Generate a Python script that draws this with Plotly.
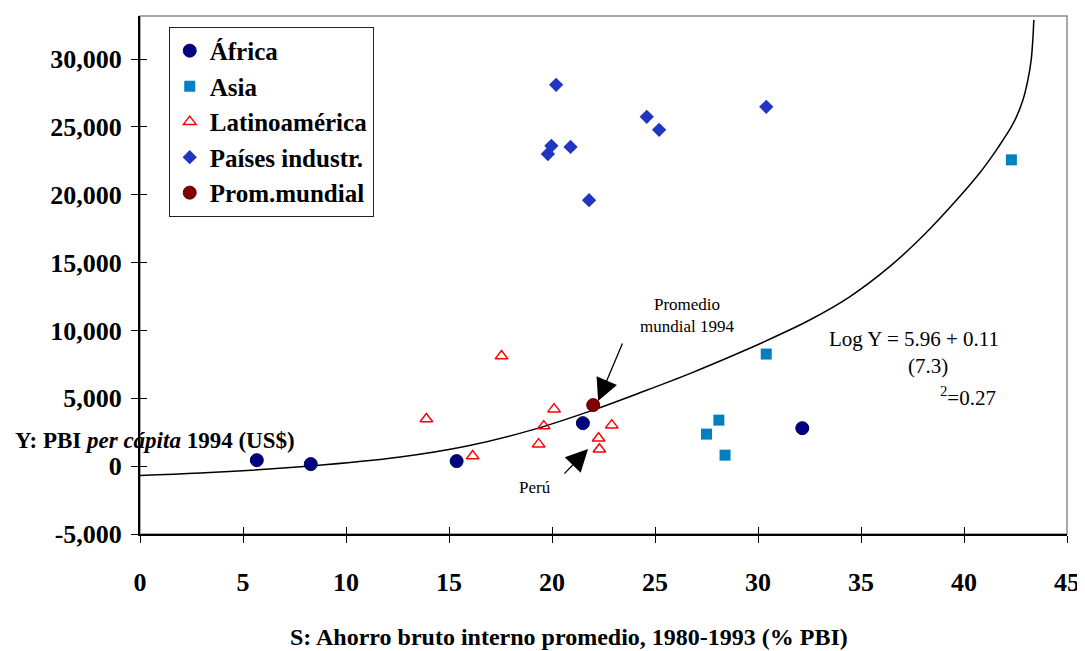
import plotly.graph_objects as go

# ---------------- data ----------------
africa_x = [5.67, 8.29, 15.37, 21.5, 32.15]
africa_y = [440, 150, 370, 3170, 2800]

asia_x = [42.3, 30.4, 28.1, 27.5, 28.4]
asia_y = [22570, 8260, 3390, 2360, 810]

latam_x = [13.9, 16.15, 17.55, 20.1, 19.6, 19.35, 22.26, 22.3, 22.9]
latam_y = [3470, 740, 8110, 4200, 2950, 1620, 2060, 1250, 3020]

ind_x = [20.2, 19.97, 19.8, 20.9, 21.8, 24.6, 25.2, 30.4]
ind_y = [28100, 23600, 23000, 23520, 19600, 25740, 24780, 26480]

world_x = [22.0]
world_y = [4500]

# trend curve
curve_x = [-0.95, 2.93, 8.27, 12.63, 15.88, 19.08, 21.99, 24.27, 26.69, 29.12,
           31.06, 32.51, 34.45, 36.39, 38.09, 39.79, 40.76, 41.57, 41.89,
           42.29, 42.54, 42.86, 43.10, 43.26, 43.34, 43.39]
curve_y = [-730, -510, 10, 670, 1480, 2690, 4130, 5410, 6820, 8370,
           9700, 10770, 12480, 14700, 17090, 19870, 21600, 23290, 24030,
           24990, 25720, 26980, 28450, 29920, 31400, 32870]

x_ticks = [0, 5, 10, 15, 20, 25, 30, 35, 40, 45]
x_ticktext = ["0", "5", "10", "15", "20", "25", "30", "35", "40", "45"]
y_ticks = [-5000, 0, 5000, 10000, 15000, 20000, 25000, 30000]
y_ticktext = ["-5,000", "0", "5,000", "10,000", "15,000", "20,000", "25,000", "30,000"]

X_RANGE = [0, 45]
Y_RANGE = [-5000, 33170]

SERIF = "Liberation Serif, Times New Roman, serif"

fig = go.Figure()

fig.add_trace(go.Scatter(x=curve_x, y=curve_y, mode="lines",
                         line=dict(color="black", width=1.5, shape="spline", smoothing=1.0),
                         showlegend=False, hoverinfo="skip"))

fig.add_trace(go.Scatter(x=africa_x, y=africa_y, mode="markers", name="África",
                         marker=dict(symbol="circle", size=13, color="#000080",
                                     line=dict(color="#000060", width=1))))
fig.add_trace(go.Scatter(x=asia_x, y=asia_y, mode="markers", name="Asia",
                         marker=dict(symbol="square", size=11, color="#0080C0",
                                     line=dict(width=0))))
fig.add_trace(go.Scatter(x=latam_x, y=latam_y, mode="markers", name="Latinoamérica",
                         marker=dict(symbol="triangle-up-open", size=11, color="#FF0000",
                                     line=dict(color="#FF0000", width=1.5))))
fig.add_trace(go.Scatter(x=ind_x, y=ind_y, mode="markers", name="Países industr.",
                         marker=dict(symbol="diamond", size=11, color="#2035C0",
                                     line=dict(width=0))))
fig.add_trace(go.Scatter(x=world_x, y=world_y, mode="markers", name="Prom.mundial",
                         marker=dict(symbol="circle", size=13, color="#800000",
                                     line=dict(color="#600000", width=1))))

# invisible trace for the inside-tick overlay axes
fig.add_trace(go.Scatter(x=[None], y=[None], xaxis="x2", yaxis="y2",
                         showlegend=False, hoverinfo="skip"))

tickfont = dict(family=SERIF, size=26, color="black", weight="bold")

# page body has an 8px margin, so the figure is sized/offset to compensate
fig.update_layout(
    width=1077, height=643, autosize=False,
    margin=dict(l=131.5, r=17.5, t=8, b=117, autoexpand=False),
    paper_bgcolor="white", plot_bgcolor="white",
    showlegend=True,
    legend=dict(x=0.031, y=0.979, xanchor="left", yanchor="top",
                bgcolor="white", bordercolor="#222222", borderwidth=1,
                font=dict(family=SERIF, size=25, color="black", weight="bold"),
                traceorder="normal"),
    xaxis=dict(range=X_RANGE, tickvals=x_ticks, ticktext=x_ticktext, automargin=False,
               showgrid=False, zeroline=False, showline=True, linecolor="black",
               linewidth=2, ticks="outside", ticklen=7, tickwidth=1, tickcolor="black",
               tickfont=tickfont, ticklabelstandoff=17),
    yaxis=dict(range=Y_RANGE, tickvals=y_ticks, ticktext=y_ticktext, automargin=False,
               showgrid=False, zeroline=False, showline=True, linecolor="black",
               linewidth=2, ticks="outside", ticklen=7, tickwidth=1, tickcolor="black",
               tickfont=tickfont, ticklabelstandoff=4),
    xaxis2=dict(range=X_RANGE, overlaying="x", anchor="y2", side="bottom", automargin=False,
                tickvals=x_ticks, showticklabels=False, ticks="inside", ticklen=7,
                tickwidth=1, tickcolor="black", showgrid=False, zeroline=False,
                showline=False),
    yaxis2=dict(range=Y_RANGE, overlaying="y", anchor="x2", side="left", automargin=False,
                tickvals=y_ticks, showticklabels=False, ticks="inside", ticklen=7,
                tickwidth=1, tickcolor="black", showgrid=False, zeroline=False,
                showline=False),
)

# gray frame (top/right)
fig.add_shape(type="rect", xref="paper", yref="paper", x0=0, y0=0, x1=1, y1=1,
              line=dict(color="#8a8a8a", width=1.5), layer="below")

ann_font = dict(family=SERIF, size=17, color="black")
eq_font = dict(family=SERIF, size=21, color="black")

# arrows
fig.add_annotation(x=22.24, y=4800, ax=23.45, ay=9145, xref="x", yref="y",
                   axref="x", ayref="y", text="", showarrow=True,
                   arrowhead=2, arrowsize=3.4, arrowwidth=1.3, arrowcolor="black")
fig.add_annotation(x=21.75, y=1260, ax=20.53, ay=-660, xref="x", yref="y",
                   axref="x", ayref="y", text="", showarrow=True,
                   arrowhead=2, arrowsize=3.4, arrowwidth=1.3, arrowcolor="black")

fig.add_annotation(x=26.55, y=11130, xref="x", yref="y", text="Promedio<br>mundial 1994",
                   showarrow=False, font=ann_font, align="center")
fig.add_annotation(x=19.18, y=-1600, xref="x", yref="y", text="Perú",
                   showarrow=False, font=ann_font)
fig.add_annotation(x=37.55, y=9360, xref="x", yref="y", text="Log Y = 5.96 + 0.11",
                   showarrow=False, font=eq_font)
fig.add_annotation(x=38.25, y=7390, xref="x", yref="y", text="(7.3)",
                   showarrow=False, font=eq_font)
fig.add_annotation(x=40.2, y=5160, xref="x", yref="y", text="<sup>2</sup>=0.27",
                   showarrow=False, font=eq_font)

fig.add_annotation(x=0.0167, y=1920, xref="paper", yref="y",
                   text="Y: PBI <i>per cápita</i> 1994 (US$)",
                   showarrow=False, xanchor="center",
                   font=dict(family=SERIF, size=23, color="black", weight="bold"))

fig.add_annotation(x=0.463, y=-0.199, xref="paper", yref="paper",
                   text="S: Ahorro bruto interno promedio, 1980-1993 (% PBI)",
                   showarrow=False, xanchor="center", yanchor="middle",
                   font=dict(family=SERIF, size=24, color="black", weight="bold"))

fig.write_html("out.html")
